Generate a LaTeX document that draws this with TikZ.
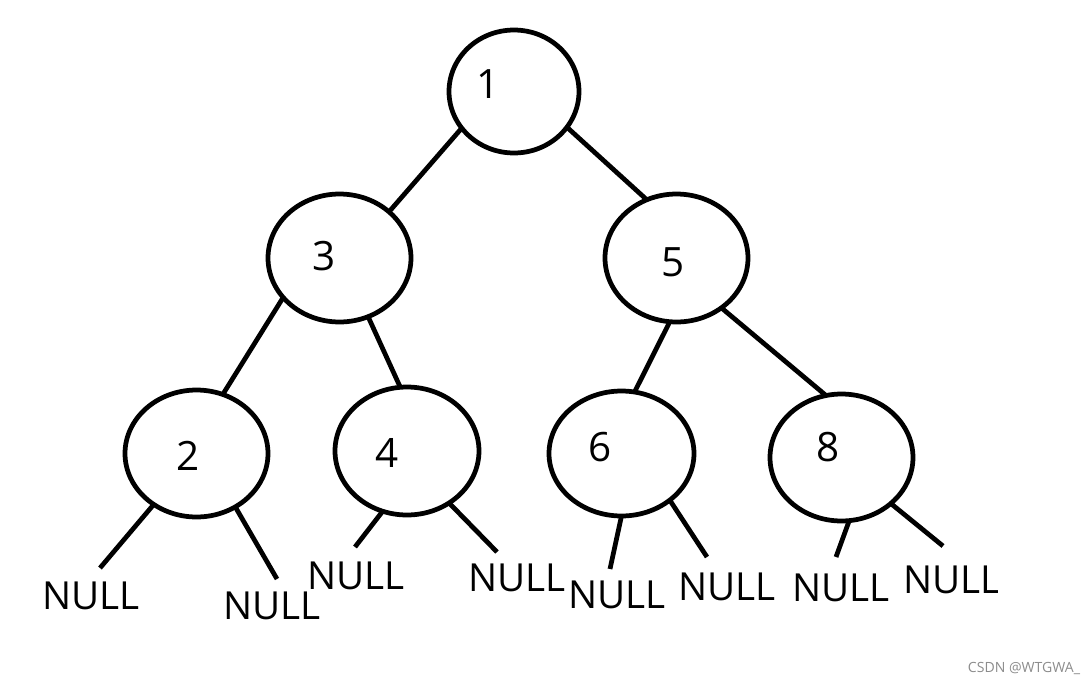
\documentclass[tikz,border=0pt]{standalone}
\usepackage{fontspec}
\setmainfont{Open Sans}
\usetikzlibrary{shapes.geometric}
\tikzset{
  tn/.style={draw, ellipse, line width=2.7pt, inner sep=0pt, outer sep=0pt},
  lab/.style={inner sep=0pt, font=\fontsize{23}{27}\selectfont},
  nul/.style={inner sep=0pt, font=\fontsize{22}{26}\selectfont},
  conn/.style={line width=2.7pt},
  wm/.style={inner sep=0pt, text=black!45, font=\fontsize{8}{10}\selectfont}
}
\begin{document}
\begin{tikzpicture}[x=0.02cm, y=-0.02cm]
\path[use as bounding box] (0,0) rectangle (1083,684);
% tree nodes
\node[tn, minimum width=2.6cm, minimum height=2.46cm] (n1) at (514,91.5) {};
\node[tn, minimum width=2.86cm, minimum height=2.56cm] (n3) at (339.5,258) {};
\node[tn, minimum width=2.86cm, minimum height=2.56cm] (n5) at (676.5,258) {};
\node[tn, minimum width=2.86cm, minimum height=2.54cm] (n2) at (196.5,453.5) {};
\node[tn, minimum width=2.88cm, minimum height=2.56cm] (n4) at (407,451) {};
\node[tn, minimum width=2.9cm, minimum height=2.5cm] (n6) at (621.5,453.5) {};
\node[tn, minimum width=2.86cm, minimum height=2.54cm] (n8) at (841.5,457.5) {};
% labels
\node[lab] (l1) at (488,84) {1};
\node[lab] (l3) at (324,256) {3};
\node[lab] (l5) at (673,262) {5};
\node[lab] (l2) at (188,456) {2};
\node[lab] (l4) at (387,453) {4};
\node[lab] (l6) at (600,447) {6};
\node[lab] (l8) at (828,447) {8};
% NULL leaves
\node[nul] (u1) at (91,596) {NULL};
\node[nul] (u2) at (272,606) {NULL};
\node[nul] (u3) at (356,576) {NULL};
\node[nul] (u4) at (517,578) {NULL};
\node[nul] (u5) at (617,595) {NULL};
\node[nul] (u6) at (727,587) {NULL};
\node[nul] (u7) at (841,588) {NULL};
\begin{scope}
\clip (890,540) rectangle (997,630);
\node[nul] (u8) at (952,580) {NULL};
\end{scope}
% free ends of leaf connectors
\coordinate (e1) at (100,568);
\coordinate (e2) at (277,579);
\coordinate (e3) at (355,547);
\coordinate (e4) at (497,552);
\coordinate (e5) at (610,569);
\coordinate (e6) at (707,557);
\coordinate (e7) at (836,557);
\coordinate (e8) at (943,546);
% connectors
\draw[conn] (n1.215.6) -- (n3.43.1);
\draw[conn] (n1.326.4) -- (n5.117);
\draw[conn] (n3.215.6) -- (n2.66.3);
\draw[conn] (n3.296.6) -- (n4.96.7);
\draw[conn] (n5.264) -- (n6.78.5);
\draw[conn] (n5.312.9) -- (n8.104.3);
\draw[conn] (n2.230.3) -- (e1);
\draw[conn] (n2.306.8) -- (e2);
\draw[conn] (n4.248.8) -- (e3);
\draw[conn] (n4.309.8) -- (e4);
\draw[conn] (n6.270.4) -- (e5);
\draw[conn] (n6.316.1) -- (e6);
\draw[conn] (n8.277.4) -- (e7);
\draw[conn] (n8.317.3) -- (e8);
% watermark
\node[wm] (wm) at (1024,668) {CSDN @WTGWA\_};
\end{tikzpicture}
\end{document}
